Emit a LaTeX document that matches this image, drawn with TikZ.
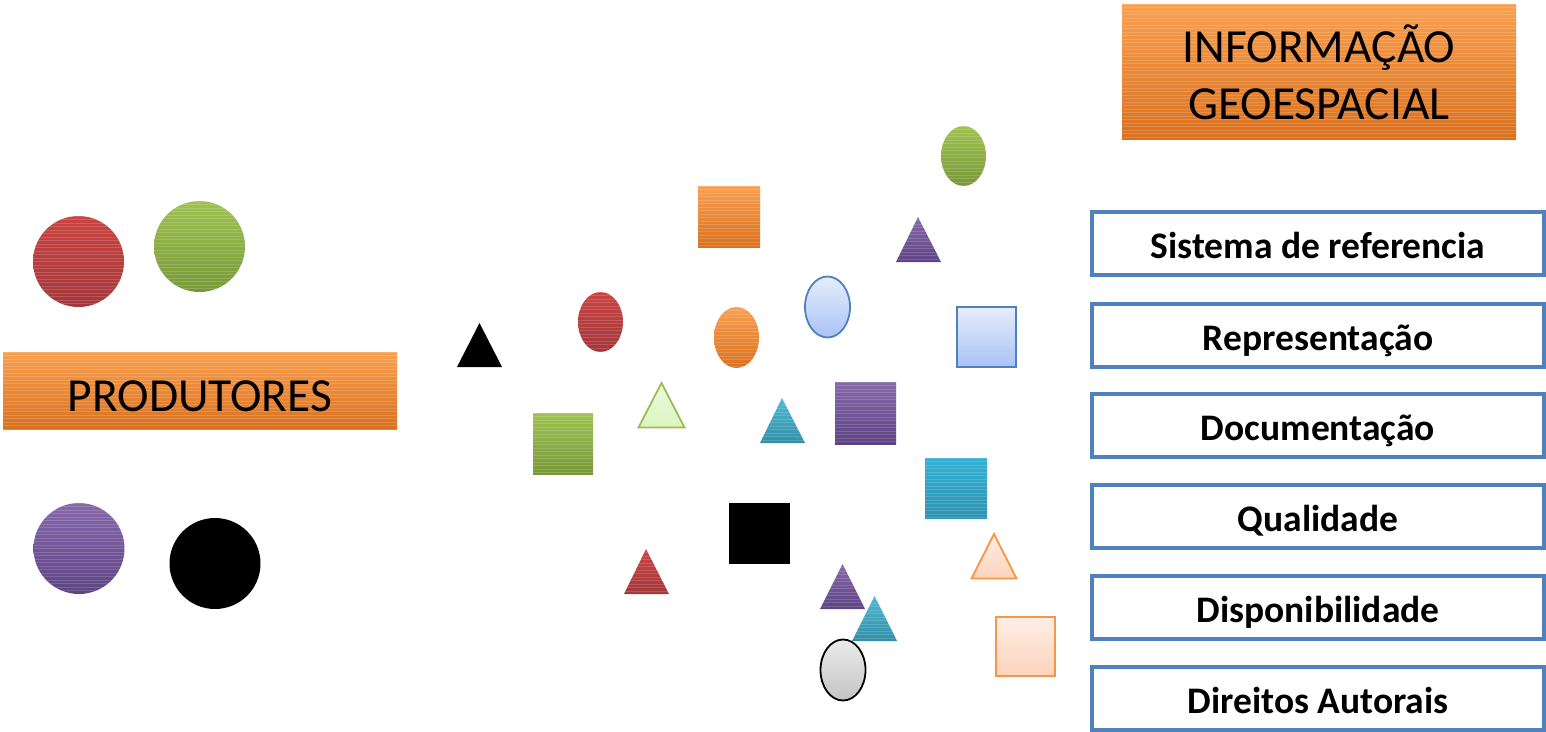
\documentclass[tikz,border=0pt]{standalone}
\usepackage{fontspec}
\setmainfont{Carlito}
\usetikzlibrary{shapes.geometric}
\definecolor{orgT}{HTML}{F9A050}
\definecolor{orgB}{HTML}{D9711F}
\definecolor{redT}{HTML}{CA4442}
\definecolor{redB}{HTML}{A3373A}
\definecolor{grnT}{HTML}{A0C252}
\definecolor{grnB}{HTML}{789838}
\definecolor{purT}{HTML}{8768AC}
\definecolor{purB}{HTML}{5C4483}
\definecolor{tealT}{HTML}{50B9D3}
\definecolor{tealB}{HTML}{338EA7}
\definecolor{tsqT}{HTML}{32B2D6}
\definecolor{tsqB}{HTML}{2F92AE}
\definecolor{lblT}{HTML}{E6EDFB}
\definecolor{lblB}{HTML}{A9C3F6}
\definecolor{lgrT}{HTML}{EEFADF}
\definecolor{lgrB}{HTML}{DAF5BE}
\definecolor{lorT}{HTML}{FEEEE5}
\definecolor{lorB}{HTML}{FCD3BD}
\definecolor{gryT}{HTML}{EBEBEB}
\definecolor{gryB}{HTML}{C4C4C4}
\definecolor{boxblue}{HTML}{4F81BD}
\definecolor{accgreen}{HTML}{9BBB59}
\definecolor{accorange}{HTML}{F79646}
\begin{document}
\begin{tikzpicture}[x=1pt,y=-1pt,
  stripes/.style={path picture={\foreach \k in {0,3.5,...,140}{\draw[white,opacity=0.16,line width=0.7pt] ([yshift=-\k pt]path picture bounding box.north west) -- ([yshift=-\k pt]path picture bounding box.north east);}}},
  orangefill/.style={top color=orgT, bottom color=orgB, stripes},
  redfill/.style={top color=redT, bottom color=redB, stripes},
  greenfill/.style={top color=grnT, bottom color=grnB, stripes},
  purplefill/.style={top color=purT, bottom color=purB, stripes},
  tealfill/.style={top color=tealT, bottom color=tealB, stripes},
  tealsqfill/.style={top color=tsqT, bottom color=tsqB, stripes},
  lightblue/.style={top color=lblT, bottom color=lblB, draw=boxblue, line width=1.8pt},
  lightgreen/.style={top color=lgrT, bottom color=lgrB, draw=accgreen, line width=1.8pt},
  lightorange/.style={top color=lorT, bottom color=lorB, draw=accorange, line width=1.8pt},
  grayfill/.style={top color=gryT, bottom color=gryB, draw=black, line width=1.8pt},
  titlebox/.style={rectangle, inner sep=0pt, orangefill},
  titletext/.style={inner sep=0pt, anchor=base, font=\fontsize{47.5pt}{57pt}\selectfont},
  bluebox/.style={rectangle, draw=boxblue, line width=4pt, fill=white, minimum width=452pt, minimum height=63pt, inner sep=0pt},
  boxtext/.style={inner sep=0pt, anchor=base, font=\fontsize{37.5pt}{42pt}\selectfont\bfseries},
  dot/.style={circle, inner sep=0pt, minimum size=91pt}
]
\useasboundingbox (0,0) rectangle (1546,731);

% title boxes
\node[titlebox, minimum width=394pt, minimum height=77pt] (prod) at (200,390.5) {};
\node[titletext] (prodt) at (200,411) {PRODUTORES};
\node[titlebox, minimum width=394pt, minimum height=135pt] (info) at (1319,71.5) {};
\node[titletext] (info1) at (1319,62) {INFORMAÇÃO};
\node[titletext] (info2) at (1319,119) {GEOESPACIAL};

% producer circles
\node[dot, redfill] (pred) at (78.5,261.5) {};
\node[dot, greenfill] (pgreen) at (199.5,246.5) {};
\node[dot, purplefill] (ppurple) at (79,548.5) {};
\node[dot, fill=black] (pblack) at (215,563.5) {};

% scattered squares
\path[orangefill] (698,186) rectangle (760,247);
\path[greenfill] (533,413) rectangle (593,474);
\path[purplefill] (835,382) rectangle (896,444);
\path[tealsqfill] (925,458) rectangle (987,518);
\path[fill=black] (729,503) rectangle (790,564);
\path[lightblue] (957,307) rectangle (1016,367);
\path[lightorange] (996,617) rectangle (1055,676);

% scattered ellipses
\path[redfill] (600.5,322) ellipse [x radius=22.5, y radius=30];
\path[orangefill] (736.5,337.5) ellipse [x radius=22.5, y radius=30.5];
\path[greenfill] (963.5,156) ellipse [x radius=22.5, y radius=30];
\path[lightblue] (827.5,307) ellipse [x radius=22.5, y radius=30.5];
\path[grayfill] (843,670) ellipse [x radius=22.5, y radius=30.5];

% scattered triangles
\path[fill=black] (479.5,323) -- (502,367) -- (457,367) -- cycle;
\path[lightgreen] (661.5,383) -- (684.5,427.5) -- (638.5,427.5) -- cycle;
\path[purplefill] (918,217) -- (941,262) -- (896,262) -- cycle;
\path[tealfill] (782,398) -- (805,443) -- (760,443) -- cycle;
\path[redfill] (646,549) -- (669,594) -- (624,594) -- cycle;
\path[purplefill] (842.5,564) -- (865,609) -- (820,609) -- cycle;
\path[tealfill] (874.5,596) -- (897,641) -- (852,641) -- cycle;
\path[lightorange] (994,534) -- (1016.5,578.5) -- (971.5,578.5) -- cycle;

% right-hand boxes
\node[bluebox] (b1) at (1318,243.5) {};
\node[bluebox] (b2) at (1318,335) {};
\node[bluebox] (b3) at (1318,425.5) {};
\node[bluebox] (b4) at (1318,516) {};
\node[bluebox] (b5) at (1318,607) {};
\node[bluebox] (b6) at (1318,698) {};
\node[boxtext] (t1) at ([yshift=-15pt]b1.center) {Sistema de referencia};
\node[boxtext] (t2) at ([yshift=-15pt]b2.center) {Representação};
\node[boxtext] (t3) at ([yshift=-15pt]b3.center) {Documentação};
\node[boxtext] (t4) at ([yshift=-15pt]b4.center) {Qualidade};
\node[boxtext] (t5) at ([yshift=-15pt]b5.center) {Disponibilidade};
\node[boxtext] (t6) at ([yshift=-15pt]b6.center) {Direitos Autorais};
\end{tikzpicture}
\end{document}
